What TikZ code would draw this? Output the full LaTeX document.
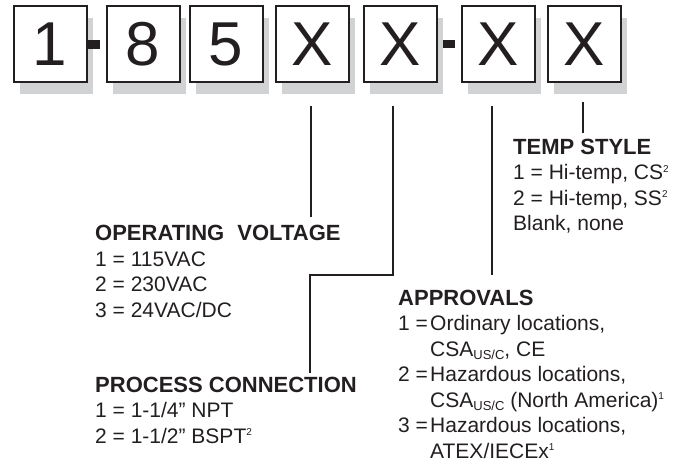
\documentclass[tikz,border=0pt]{standalone}
\usepackage{fontspec}
\setmainfont{Liberation Sans}
\usetikzlibrary{shadows}
\definecolor{ink}{HTML}{231F20}
\definecolor{shade}{HTML}{D1D2D4}
\newcommand{\hd}[1]{{\fontsize{22}{25.5}\selectfont\bfseries #1}}
\newcommand{\sups}[1]{\raisebox{7.5pt}{\fontsize{10}{10}\selectfont #1}}
\newcommand{\subs}[1]{\raisebox{-3pt}{\fontsize{13}{13}\selectfont #1}}
\begin{document}
\begin{tikzpicture}[x=1pt,y=-1pt,
  digitbox/.style={draw=ink, line width=2pt, fill=white, minimum width=73pt,
    minimum height=76pt, inner sep=0pt, font=\fontsize{62}{62}\selectfont, text=ink,
    drop shadow={shadow xshift=6pt, shadow yshift=-12pt, fill=shade, opacity=1}},
  conn/.style={draw=ink, line width=1.6pt},
  lbl/.style={anchor=base west, inner sep=0pt, align=left, text=ink,
    font=\fontsize{21}{25.5}\selectfont},
  dashbar/.style={fill=ink, inner sep=0pt, minimum width=12pt, minimum height=9pt}]
\useasboundingbox (0,0) rectangle (691,468);
% boxes
\node[digitbox] (b1) at (50,44) {1};
\node[digitbox] (b2) at (143,44) {8};
\node[digitbox] (b3) at (226,44) {5};
\node[digitbox] (b4) at (312.5,44) {X};
\node[digitbox] (b5) at (400.5,44) {X};
\node[digitbox] (b6) at (498.5,44) {X};
\node[digitbox] (b7) at (584.5,44) {X};
% dashes
\node[dashbar] (d1) at (94,45) {};
\node[dashbar, minimum height=8pt] (d2) at (449,44) {};
% labels (anchored at the baseline of their last line)
\node[lbl] (ov) at (95,317) {\hd{OPERATING\hspace{7pt} VOLTAGE}\\
1 = 115VAC\\
2 = 230VAC\\
3 = 24VAC/DC};
\node[lbl] (pc) at (95,443) {\hd{PROCESS CONNECTION}\\
1 = 1-1/4” NPT\\
2 = 1-1/2” BSPT\sups{2}};
\node[lbl] (ap) at (398,458) {\hd{APPROVALS}\\
\makebox[32pt][l]{1 =}Ordinary locations,\\
\hspace*{32pt}CSA\subs{US/C}, CE\\
\makebox[32pt][l]{2 =}Hazardous locations,\\
\hspace*{32pt}CSA\subs{US/C} (North America)\sups{1}\\
\makebox[32pt][l]{3 =}Hazardous locations,\\
\hspace*{32pt}ATEX/IECEx\sups{1}};
\node[lbl] (ts) at (513,230.5) {\hd{TEMP STYLE}\\
1 = Hi-temp, CS\sups{2}\\
2 = Hi-temp, SS\sups{2}\\
Blank, none};
% connector end points
\coordinate (t4) at (311,106);
\coordinate (e4) at (311,217);
\coordinate (t5) at (393,106);
\coordinate (k5) at (393,275);
\coordinate (e5) at (310,373);
\coordinate (t6) at (492,106);
\coordinate (e6) at (492,275);
\coordinate (t7) at (583,102);
\coordinate (e7) at (583,133);
\draw[conn] (t4) -- (e4);
\draw[conn] (t5) -- (k5) -| (e5);
\draw[conn] (t6) -- (e6);
\draw[conn] (t7) -- (e7);
\end{tikzpicture}
\end{document}
